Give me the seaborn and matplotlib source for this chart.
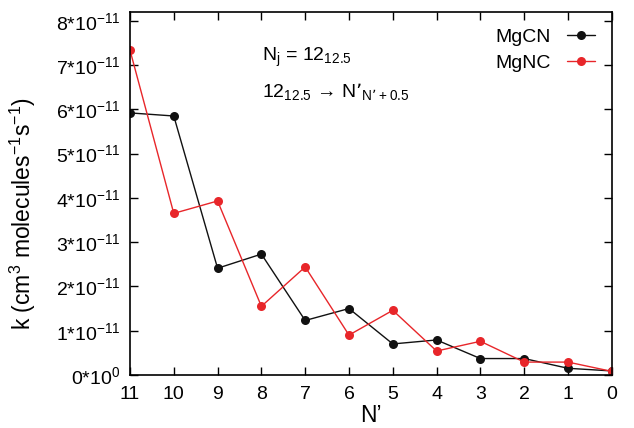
import numpy as np
import pandas as pd
import matplotlib
matplotlib.use("Agg")
import matplotlib.pyplot as plt
import seaborn as sns

# N' levels and rate coefficients (units of 1e-11 cm^3 molecules^-1 s^-1)
n_prime = [11, 10, 9, 8, 7, 6, 5, 4, 3, 2, 1, 0]
k_mgcn = [5.92, 5.85, 2.41, 2.73, 1.23, 1.50, 0.70, 0.79, 0.37, 0.37, 0.15, 0.09]
k_mgnc = [7.34, 3.65, 3.93, 1.55, 2.44, 0.90, 1.46, 0.54, 0.76, 0.29, 0.29, 0.08]
y_ticks = [0, 1, 2, 3, 4, 5, 6, 7, 8]
y_tick_labels = ["0*10$^{0}$"] + [f"{v}*10$^{{-11}}$" for v in y_ticks[1:]]

sns.set_style("ticks")
plt.rcParams["font.family"] = ["Liberation Sans", "DejaVu Sans"]
plt.rcParams["mathtext.default"] = "regular"
for key in ["text.color", "axes.labelcolor", "xtick.color", "ytick.color", "axes.edgecolor"]:
    plt.rcParams[key] = "black"

df = pd.DataFrame({"N": n_prime * 2,
                   "k": np.array(k_mgcn + k_mgnc) * 1e-11,
                   "mol": ["MgCN"] * len(n_prime) + ["MgNC"] * len(n_prime)})

fig = plt.figure(figsize=(6.34, 4.28), dpi=100)
ax = fig.add_axes([0.205, 0.124, 0.76, 0.848])

colors = {"MgCN": "#111111", "MgNC": "#e8262a"}
for name in ["MgCN", "MgNC"]:
    sub = df[df["mol"] == name]
    sns.lineplot(data=sub, x="N", y="k", ax=ax, color=colors[name], marker="o",
                 markersize=6.5, markeredgewidth=0, linewidth=1, label=name)

ax.set_xlim(11, 0)
ax.set_ylim(0, 8.2e-11)
ax.set_xticks(n_prime)
ax.set_xticklabels([str(n) for n in n_prime])
ax.set_yticks([v * 1e-11 for v in y_ticks])
ax.set_yticklabels(y_tick_labels)
ax.tick_params(direction="in", top=True, right=True, length=6, width=1,
               labelsize=14)
ax.tick_params(axis="x", pad=8)
ax.tick_params(axis="y", pad=7)
for s in ax.spines.values():
    s.set_linewidth(1.2)

ax.set_xlabel("N’", fontsize=16.5, labelpad=1)
ax.set_ylabel("k (cm$^{3}$ molecules$^{-1}$s$^{-1}$)", fontsize=16.5)
ax.yaxis.set_label_coords(-0.19, 0.445)

ax.text(0.274, 0.865, "N$_{j}$ = 12$_{12.5}$", transform=ax.transAxes, fontsize=14)
ax.text(0.274, 0.765, "12$_{12.5}$ → N’$_{N’+0.5}$", transform=ax.transAxes, fontsize=14)

ax.legend(loc="upper right", frameon=False, markerfirst=False, fontsize=14,
          handlelength=1.45, handletextpad=0.85, borderaxespad=0.45,
          labelspacing=0.4)

fig.savefig("out.png", dpi=100)
